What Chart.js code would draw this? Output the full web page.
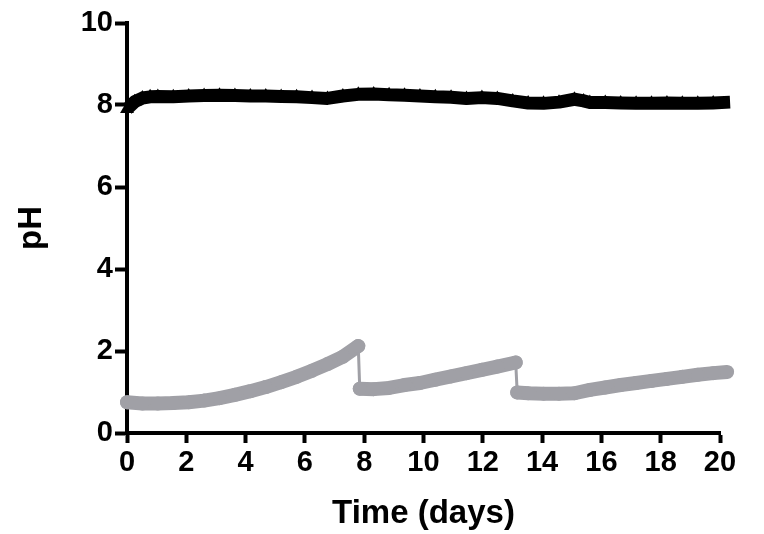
<!DOCTYPE html>
<html>
<head>
<meta charset="utf-8">
<script src="https://cdn.jsdelivr.net/npm/chart.js@4.4.1/dist/chart.umd.min.js"></script>
<style>
  body { margin: 0; background: #fff; }
  #wrap { width: 764px; height: 534px; }
</style>
</head>
<body>
<div id="wrap"><canvas id="phChart" width="764" height="534"></canvas></div>
<script>
// black series (triangles)
const blackDays = [0, 0.26, 0.52, 0.78, 1.04, 1.56, 2.08, 2.6, 3.12, 3.64, 4.16, 4.68, 5.2, 5.72,
  6.24, 6.76, 7.28, 7.8, 8.32, 8.84, 9.36, 9.88, 10.4, 10.93, 11.45, 11.97, 12.49, 13.01, 13.53,
  14.05, 14.57, 15.09, 15.4, 15.61, 16.13, 16.65, 17.17, 17.69, 18.21, 18.73, 19.25, 19.77, 20.34];
const blackPH = [7.9, 8.08, 8.17, 8.2, 8.21, 8.2, 8.22, 8.23, 8.24, 8.23, 8.22, 8.22, 8.21, 8.2,
  8.18, 8.16, 8.22, 8.26, 8.27, 8.25, 8.24, 8.22, 8.2, 8.19, 8.16, 8.18, 8.16, 8.1, 8.05, 8.04,
  8.07, 8.14, 8.1, 8.06, 8.06, 8.05, 8.04, 8.04, 8.05, 8.04, 8.04, 8.05, 8.07];

// grey series (circles), three runs separated by drops
const greyDays = [0, 0.52, 1.04, 1.56, 2.08, 2.6, 3.12, 3.64, 4.16, 4.68, 5.2, 5.72, 6.24, 6.76, 7.28, 7.8,
  7.85, 8.32, 8.84, 9.36, 9.88, 10.4, 10.93, 11.45, 11.97, 12.49, 13.11,
  13.16, 13.53, 14.05, 14.57, 15.09, 15.61, 16.13, 16.65, 17.17, 17.69, 18.21, 18.73, 19.25, 19.77, 20.24];
const greyPH = [0.75, 0.72, 0.72, 0.73, 0.75, 0.79, 0.85, 0.93, 1.02, 1.12, 1.24, 1.37, 1.52, 1.68, 1.86, 2.12,
  1.08, 1.07, 1.1, 1.17, 1.22, 1.3, 1.38, 1.46, 1.54, 1.62, 1.72,
  0.99, 0.97, 0.96, 0.96, 0.97, 1.05, 1.11, 1.17, 1.22, 1.27, 1.32, 1.37, 1.42, 1.46, 1.49];

const xTicks = [0, 2, 4, 6, 8, 10, 12, 14, 16, 18, 20];
const yTicks = [0, 2, 4, 6, 8, 10];

const FONT = '"Liberation Sans", Arial, sans-serif';
const GREY = '#a0a0a6';

function toPoints(xs, ys) {
  return xs.map((x, i) => ({ x: x, y: ys[i] }));
}

const ctx = document.getElementById('phChart').getContext('2d');

new Chart(ctx, {
  type: 'line',
  data: {
    datasets: [
      {
        data: toPoints(greyDays, greyPH),
        borderColor: GREY,
        backgroundColor: GREY,
        pointStyle: 'circle',
        pointRadius: 7,
        pointBorderWidth: 0,
        borderCapStyle: 'round',
        borderJoinStyle: 'round',
        segment: {
          // thin connector on the sudden drops
          borderWidth: c => Math.abs(c.p1.parsed.y - c.p0.parsed.y) > 0.5 ? 3 : 14
        },
        clip: false
      },
      {
        data: toPoints(blackDays, blackPH),
        borderColor: '#000',
        backgroundColor: '#000',
        borderWidth: 13,
        borderJoinStyle: 'round',
        pointStyle: 'triangle',
        pointRadius: 8,
        pointBorderWidth: 0,
        clip: false
      }
    ]
  },
  options: {
    responsive: false,
    animation: false,
    events: [],
    layout: { padding: { top: 23, right: 44, left: 0, bottom: 0 } },
    plugins: { legend: { display: false }, tooltip: { enabled: false } },
    scales: {
      x: {
        type: 'linear',
        min: 0,
        max: 20,
        afterBuildTicks: axis => { axis.ticks = xTicks.map(v => ({ value: v })); },
        afterFit: axis => { axis.height = 101; },
        grid: { drawOnChartArea: false, drawTicks: true, tickLength: 10, tickWidth: 4, tickColor: '#000' },
        border: { display: true, color: '#000', width: 4 },
        ticks: { color: '#000', padding: 3, maxRotation: 0, font: { family: FONT, size: 29, weight: 'bold' } },
        title: {
          display: true,
          text: 'Time (days)',
          color: '#000',
          padding: { top: 2, bottom: 0 },
          font: { family: FONT, size: 33, weight: 'bold' }
        }
      },
      y: {
        min: 0,
        max: 10,
        afterBuildTicks: axis => { axis.ticks = yTicks.map(v => ({ value: v })); },
        afterFit: axis => { axis.width = 127; },
        grid: { drawOnChartArea: false, drawTicks: true, tickLength: 12, tickWidth: 4, tickColor: '#000' },
        border: { display: true, color: '#000', width: 4 },
        ticks: { color: '#000', padding: 2, font: { family: FONT, size: 29, weight: 'bold' } },
        title: {
          display: true,
          text: 'pH',
          color: '#000',
          padding: { top: 12, bottom: 0 },
          font: { family: FONT, size: 33, weight: 'bold' }
        }
      }
    }
  }
});
</script>
</body>
</html>
